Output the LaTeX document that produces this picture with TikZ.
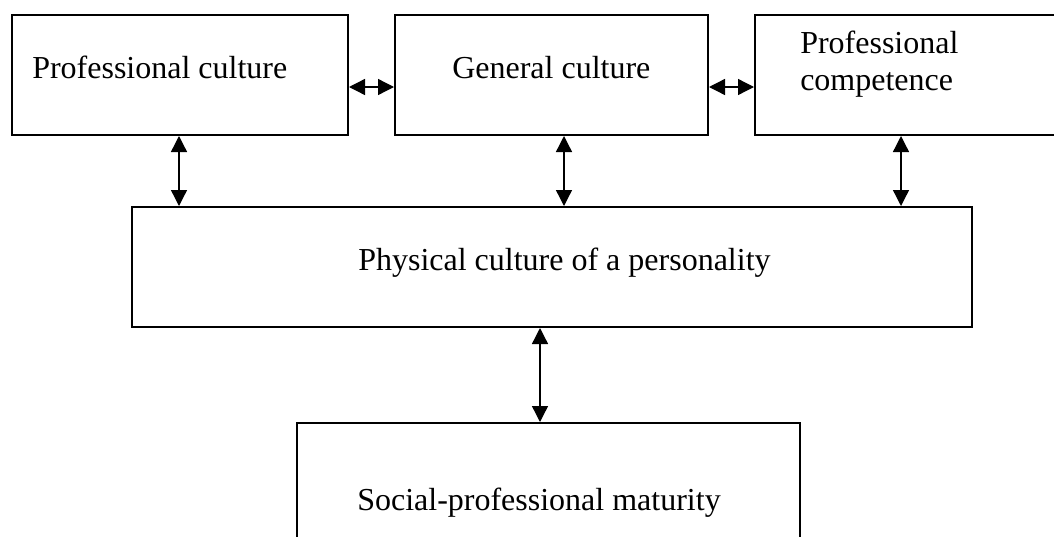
\documentclass[tikz,border=0pt]{standalone}
\usepackage{fontspec}
\setmainfont{Liberation Serif}
\usetikzlibrary{arrows.meta}
\tikzset{
  box/.style={draw=black, line width=1.5pt, inner sep=0pt, fill=none},
  txt/.style={inner sep=0pt, anchor=base west, font=\fontsize{24}{27.75}\selectfont, align=left},
  arr/.style={line width=1pt, {Triangle[length=12pt,width=12pt]}-{Triangle[length=12pt,width=12pt]}}
}
\begin{document}
\begin{tikzpicture}[x=0.75pt,y=-0.75pt]
\useasboundingbox (0,0) rectangle (1054,536);
% boxes
\node[box, minimum width=336*0.75pt, minimum height=120*0.75pt] (b1) at (180,75) {};
\node[box, minimum width=313*0.75pt, minimum height=120*0.75pt] (b2) at (551.5,75) {};
\node[box, minimum width=320*0.75pt, minimum height=120*0.75pt] (b3) at (915,75) {};
\node[box, minimum width=840*0.75pt, minimum height=120*0.75pt] (b4) at (552,267) {};
\node[box, minimum width=503*0.75pt, minimum height=140*0.75pt] (b5) at (548.5,493) {};
% texts
\node[txt] (t1) at (32,78) {Professional culture};
\node[txt] (t2) at (452,78) {General culture};
\node[txt] (t3) at (800,90) {Professional\\competence};
\node[txt] (t4) at (358,270) {Physical culture of a personality};
\node[txt] (t5) at (357,510) {Social-professional maturity};
% helper coordinates
\coordinate (hy) at (0,87);
\coordinate (v1) at (179,0);
\coordinate (v2) at (564,0);
\coordinate (v3) at (901,0);
\coordinate (v4) at (540,0);
% connectors
\draw[arr] (b1.east |- hy) -- (b2.west |- hy);
\draw[arr] (b2.east |- hy) -- (b3.west |- hy);
\draw[arr] (b1.south -| v1) -- (b4.north -| v1);
\draw[arr] (b2.south -| v2) -- (b4.north -| v2);
\draw[arr] (b3.south -| v3) -- (b4.north -| v3);
\draw[arr] (b4.south -| v4) -- (b5.north -| v4);
\end{tikzpicture}
\end{document}
